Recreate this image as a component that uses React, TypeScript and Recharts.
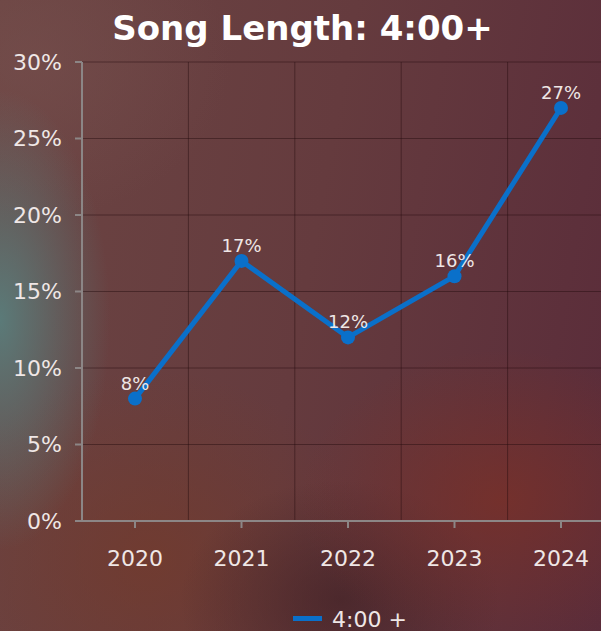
import {
  CartesianGrid, LabelList, Legend, Line, LineChart, XAxis, YAxis,
} from "recharts";

const years = ["2020", "2021", "2022", "2023", "2024"];
const share = [8, 17, 12, 16, 27];
const yTicks = [0, 5, 10, 15, 20, 25, 30];
const seriesName = "4:00 +";
const title = "Song Length: 4:00+";

const data = years.map((year, i) => ({ year, value: share[i] }));

const BLUE = "#0a70ca";
const TEXT = "#efe7e6";
const AXIS = "#8c8686";
const FONT = "'DejaVu Sans', sans-serif";

const background = [
  "radial-gradient(ellipse 110px 230px at 0px 320px, rgba(88,132,130,0.85), rgba(88,132,130,0) 100%)",
  "radial-gradient(ellipse 200px 150px at 500px 500px, rgba(125,48,38,0.7), rgba(125,48,38,0) 100%)",
  "radial-gradient(ellipse 160px 120px at 340px 600px, rgba(66,34,38,0.7), rgba(66,34,38,0) 100%)",
  "radial-gradient(ellipse 220px 190px at 150px 560px, rgba(116,58,42,0.7), rgba(116,58,42,0) 100%)",
  "radial-gradient(ellipse 200px 160px at 30px 60px, rgba(120,82,80,0.5), rgba(120,82,80,0) 100%)",
  "linear-gradient(100deg, #6c4543 0%, #653b3e 50%, #5a2c3a 100%)",
].join(", ");

function LegendContent() {
  return (
    <div
      style={{
        height: 40,
        width: 614,
        paddingLeft: 86,
        boxSizing: "border-box",
        display: "flex",
        justifyContent: "center",
        alignItems: "center",
        paddingTop: 17,
        fontFamily: FONT,
        fontSize: 22,
        color: TEXT,
      }}
    >
      <span style={{ width: 29, height: 5, background: BLUE, marginRight: 10, marginTop: -3 }} />
      <span style={{ lineHeight: "26px" }}>{seriesName}</span>
    </div>
  );
}

export default function App() {
  return (
    <div style={{ position: "relative", width: 601, height: 631, overflow: "hidden", background }}>
      <style>{"body{margin:0}"}</style>
      <div
        style={{
          position: "absolute",
          top: 8,
          left: 2,
          width: 601,
          textAlign: "center",
          fontFamily: FONT,
          fontWeight: 700,
          fontSize: 34,
          lineHeight: "40px",
          color: "#ffffff",
        }}
      >
        {title}
      </div>
      <LineChart
        width={614}
        height={631}
        data={data}
        margin={{ top: 62, right: 0, left: 0, bottom: 0 }}
        style={{ position: "absolute", top: 0, left: 0 }}
      >
        <CartesianGrid
          stroke="rgba(35,12,14,0.45)"
          strokeWidth={1}
          verticalCoordinatesGenerator={({ offset }: any) =>
            years.slice(1).map((_, i) => offset.left + ((i + 1) * offset.width) / years.length)
          }
        />
        <XAxis
          dataKey="year"
          height={70}
          padding={{ left: 53, right: 53 }}
          axisLine={{ stroke: AXIS, strokeWidth: 2 }}
          tickLine={{ stroke: AXIS, strokeWidth: 2 }}
          tickSize={7}
          tickMargin={22}
          tick={{ fill: TEXT, fontSize: 22, fontFamily: FONT }}
        />
        <YAxis
          width={82}
          domain={[0, 30]}
          ticks={yTicks}
          interval={0}
          tickFormatter={(v) => `${v}%`}
          axisLine={{ stroke: AXIS, strokeWidth: 2 }}
          tickLine={{ stroke: AXIS, strokeWidth: 2 }}
          tickSize={7}
          tickMargin={13}
          tick={{ fill: TEXT, fontSize: 22, fontFamily: FONT }}
        />
        <Legend verticalAlign="bottom" height={40} content={() => <LegendContent />} />
        <Line
          type="linear"
          dataKey="value"
          name={seriesName}
          stroke={BLUE}
          strokeWidth={5}
          dot={{ r: 7, fill: BLUE, stroke: "none" }}
          activeDot={false}
          isAnimationActive={false}
        >
          <LabelList
            dataKey="value"
            position="top"
            offset={9}
            formatter={(v: any) => `${v}%`}
            style={{ fill: TEXT, fontSize: 18, fontFamily: FONT }}
          />
        </Line>
      </LineChart>
    </div>
  );
}
